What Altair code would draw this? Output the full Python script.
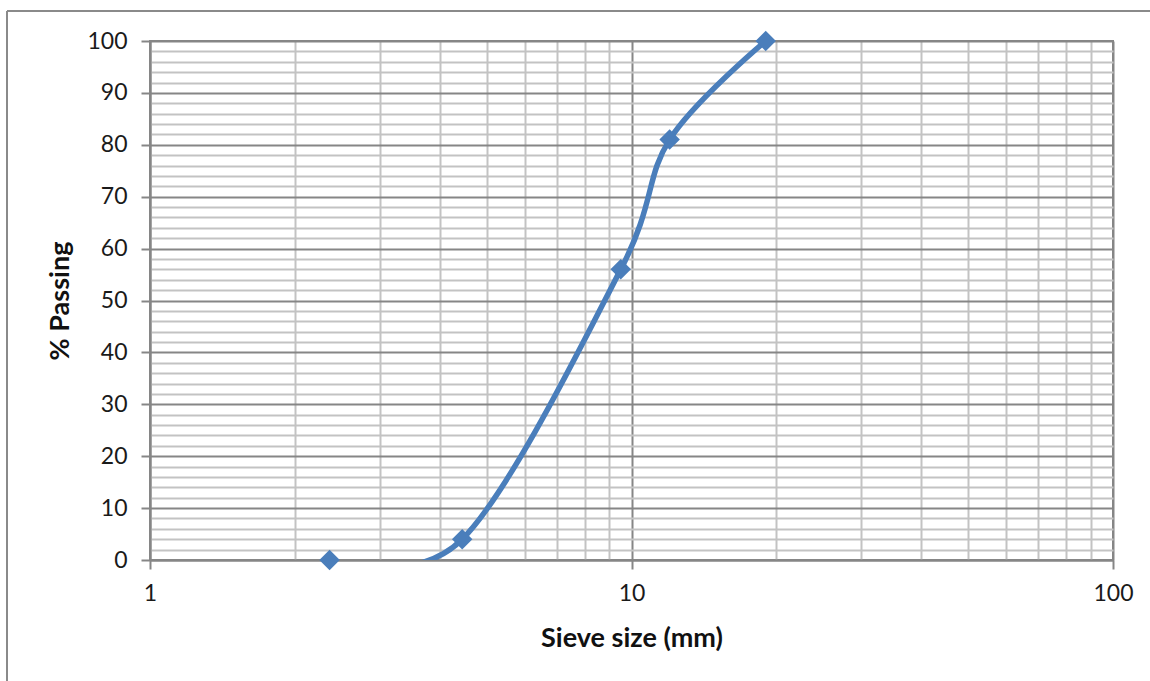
import altair as alt
import pandas as pd

# Sieve analysis results
sieve_mm = [2.36, 4.45, 9.5, 12, 19]
passing_pct = [0, 4, 56, 81, 100]

# Axis tick / gridline positions
x_grid = [1, 2, 3, 4, 5, 6, 7, 8, 9, 10, 20, 30, 40, 50, 60, 70, 80, 90, 100]
x_major = [1, 10, 100]
y_grid = list(range(0, 101, 2))

MAJOR = "#868686"
MINOR = "#c3c3c3"
BLUE = "#4a7ebb"
FONT = "Lato"

df = pd.DataFrame({"sieve": sieve_mm, "passing": passing_pct})
major_test_x = " || ".join(f"datum.value == {v}" for v in x_major)

x_enc = alt.X(
    "sieve:Q",
    scale=alt.Scale(type="log", domain=[1, 100], nice=False),
    axis=alt.Axis(
        title="Sieve size (mm)",
        values=x_grid,
        tickCount=200,
        labelExpr=f"({major_test_x}) ? format(datum.value, 'd') : ''",
        labelOverlap=False,
        labelFlush=False,
        gridColor={"condition": {"test": major_test_x, "value": MAJOR}, "value": MINOR},
        gridWidth=2,
        tickColor={"condition": {"test": major_test_x, "value": MAJOR}, "value": "transparent"},
        tickSize=9,
        tickWidth=2,
        domainColor=MAJOR,
        domainWidth=2,
        labelFont=FONT,
        labelFontSize=23,
        labelColor="#1a1a1a",
        labelPadding=13,
        titleFont=FONT,
        titleFontSize=27,
        titleFontWeight="bold",
        titleColor="#111111",
        titlePadding=20,
    ),
)

y_enc = alt.Y(
    "passing:Q",
    scale=alt.Scale(domain=[0, 100], nice=False),
    axis=alt.Axis(
        title="% Passing",
        values=y_grid,
        tickCount=200,
        labelExpr="datum.value % 10 === 0 ? format(datum.value, 'd') : ''",
        labelOverlap=False,
        labelFlush=False,
        gridColor={"condition": {"test": "datum.value % 10 === 0", "value": MAJOR}, "value": MINOR},
        gridWidth=2,
        tickColor={"condition": {"test": "datum.value % 10 === 0", "value": MAJOR}, "value": "transparent"},
        tickSize=9,
        tickWidth=2,
        domainColor=MAJOR,
        domainWidth=2,
        labelFont=FONT,
        labelFontSize=23,
        labelColor="#1a1a1a",
        labelPadding=14,
        titleFont=FONT,
        titleFontSize=27,
        titleFontWeight="bold",
        titleColor="#111111",
        titlePadding=12,
    ),
)

base = alt.Chart(df)

curve = base.mark_line(
    interpolate="cardinal", color=BLUE, strokeWidth=5.5, clip=True
).encode(x=x_enc, y=y_enc)

markers = base.mark_point(
    shape="diamond", filled=True, size=420, color=BLUE, opacity=1
).encode(x=x_enc, y=y_enc)

# Frame around the whole chart area
frame_df = pd.DataFrame({"k": [0]})
frame_top = alt.Chart(frame_df).mark_rule(color="#8a8a8a", strokeWidth=2).encode(
    x=alt.value(-143), x2=alt.value(1020), y=alt.value(-30)
)
frame_left = alt.Chart(frame_df).mark_rule(color="#8a8a8a", strokeWidth=2).encode(
    x=alt.value(-143), y=alt.value(-30), y2=alt.value(700)
)

chart = (
    alt.layer(curve, markers, frame_top, frame_left)
    .properties(
        width=963,
        height=519,
        padding={"left": 150, "top": 41, "right": 37, "bottom": 121},
        autosize=alt.AutoSizeParams(type="none"),
        background="white",
    )
    .configure_view(stroke=MAJOR, strokeWidth=2)
)

chart.save("out.html", embed_options={"renderer": "svg", "actions": False})
